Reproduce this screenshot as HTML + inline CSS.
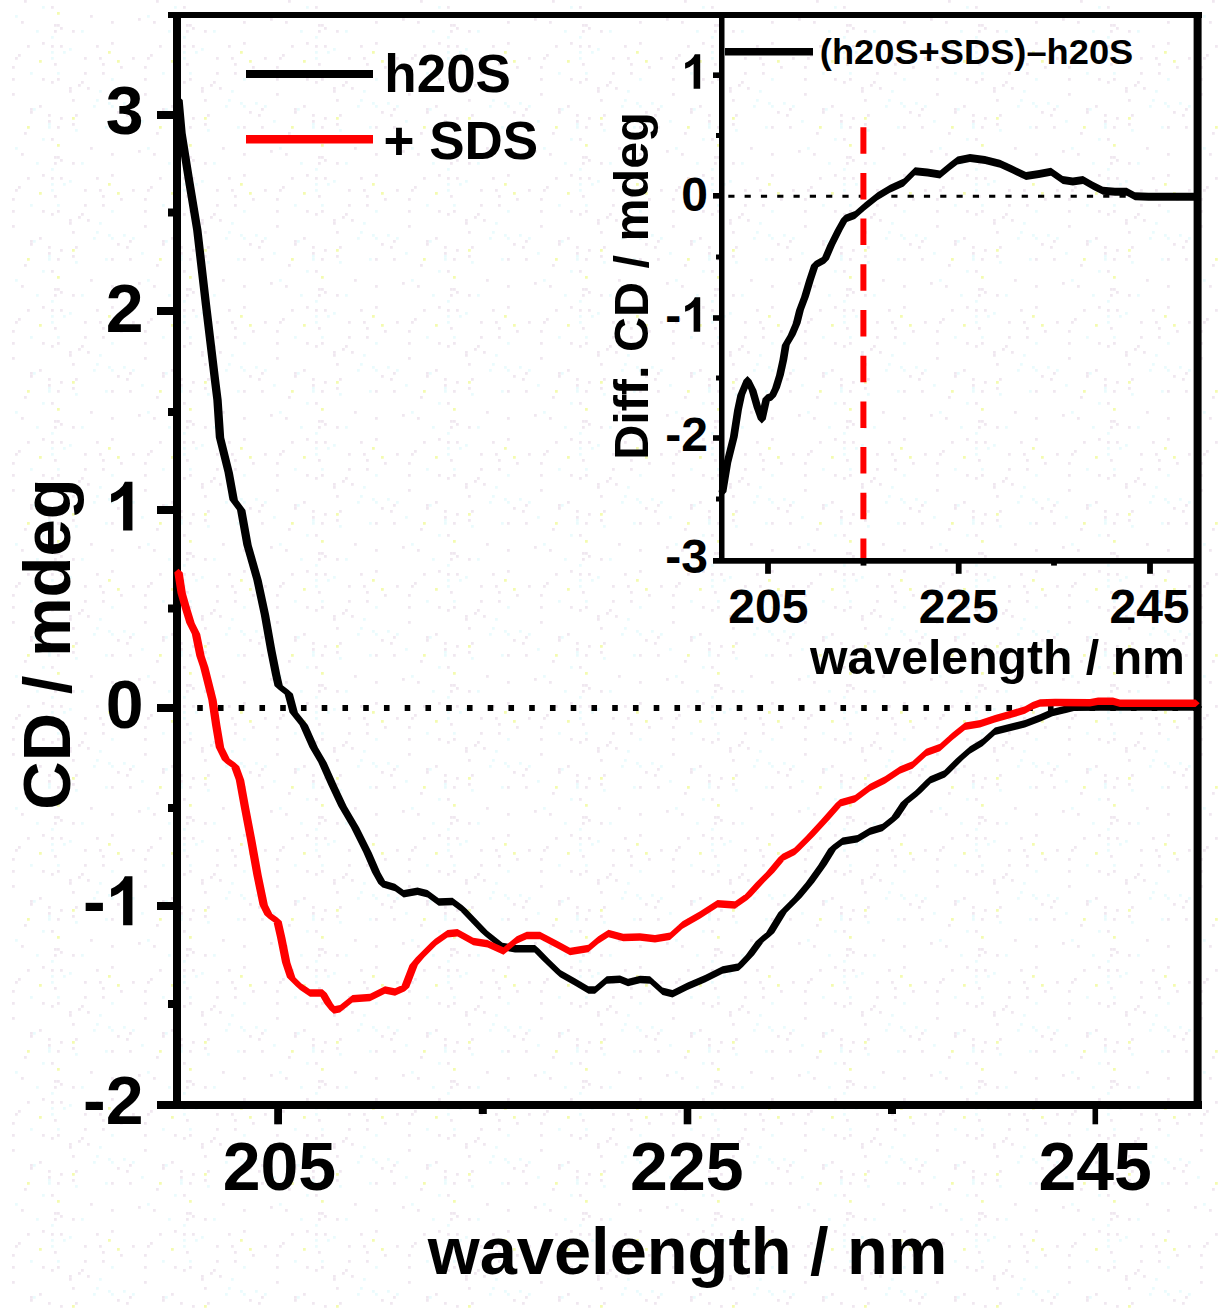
<!DOCTYPE html>
<html><head><meta charset="utf-8"><title>CD spectra</title>
<style>
html,body{margin:0;padding:0;background:#fff;}
body{width:1218px;height:1308px;overflow:hidden;}
svg{display:block;}
text{font-family:"Liberation Sans",sans-serif;font-weight:bold;fill:#000;}
</style></head><body>
<svg width="1218" height="1308" viewBox="0 0 1218 1308">
<defs><pattern id="noise" width="132" height="132" patternUnits="userSpaceOnUse"><rect x="24" y="0" width="2.75" height="2.75" fill="#f0e7f0"/><rect x="42" y="6" width="2.75" height="2.75" fill="#eafbfd"/><rect x="51" y="6" width="2.75" height="2.75" fill="#f0e7f0"/><rect x="57" y="12" width="2.75" height="2.75" fill="#f4fbb0"/><rect x="15" y="15" width="2.75" height="2.75" fill="#eafbfd"/><rect x="90" y="15" width="2.75" height="2.75" fill="#f0e7f0"/><rect x="6" y="18" width="2.75" height="2.75" fill="#f0e7f0"/><rect x="21" y="21" width="2.75" height="2.75" fill="#f0e7f0"/><rect x="111" y="21" width="2.75" height="2.75" fill="#f0e7f0"/><rect x="54" y="24" width="2.75" height="2.75" fill="#f0e7f0"/><rect x="57" y="24" width="2.75" height="2.75" fill="#f0e7f0"/><rect x="60" y="27" width="2.75" height="2.75" fill="#f0e7f0"/><rect x="36" y="30" width="2.75" height="2.75" fill="#eafbfd"/><rect x="54" y="30" width="2.75" height="2.75" fill="#f0e7f0"/><rect x="72" y="30" width="2.75" height="2.75" fill="#f0e7f0"/><rect x="81" y="30" width="2.75" height="2.75" fill="#eafbfd"/><rect x="51" y="36" width="2.75" height="2.75" fill="#eafbfd"/><rect x="42" y="42" width="2.75" height="2.75" fill="#f0e7f0"/><rect x="111" y="42" width="2.75" height="2.75" fill="#f0e7f0"/><rect x="27" y="45" width="2.75" height="2.75" fill="#f0e7f0"/><rect x="51" y="45" width="2.75" height="2.75" fill="#f0e7f0"/><rect x="60" y="45" width="2.75" height="2.75" fill="#f0e7f0"/><rect x="96" y="45" width="2.75" height="2.75" fill="#f0e7f0"/><rect x="69" y="48" width="2.75" height="2.75" fill="#eafbfd"/><rect x="51" y="51" width="2.75" height="2.75" fill="#eafbfd"/><rect x="63" y="51" width="2.75" height="2.75" fill="#eafbfd"/><rect x="108" y="51" width="2.75" height="2.75" fill="#f4fbb0"/><rect x="18" y="54" width="2.75" height="2.75" fill="#f0e7f0"/><rect x="0" y="57" width="2.75" height="2.75" fill="#f0e7f0"/><rect x="15" y="57" width="2.75" height="2.75" fill="#f0e7f0"/><rect x="51" y="57" width="2.75" height="2.75" fill="#eafbfd"/><rect x="84" y="57" width="2.75" height="2.75" fill="#f0e7f0"/><rect x="99" y="57" width="2.75" height="2.75" fill="#f0e7f0"/><rect x="39" y="60" width="2.75" height="2.75" fill="#f4fbb0"/><rect x="117" y="60" width="2.75" height="2.75" fill="#f4fbb0"/><rect x="54" y="63" width="2.75" height="2.75" fill="#f0e7f0"/><rect x="102" y="63" width="2.75" height="2.75" fill="#f0e7f0"/><rect x="12" y="66" width="2.75" height="2.75" fill="#f0e7f0"/><rect x="120" y="66" width="2.75" height="2.75" fill="#f0e7f0"/><rect x="30" y="72" width="2.75" height="2.75" fill="#eafbfd"/><rect x="57" y="72" width="2.75" height="2.75" fill="#eafbfd"/><rect x="84" y="72" width="2.75" height="2.75" fill="#f0e7f0"/><rect x="102" y="72" width="2.75" height="2.75" fill="#f0e7f0"/><rect x="12" y="78" width="2.75" height="2.75" fill="#f0e7f0"/><rect x="42" y="78" width="2.75" height="2.75" fill="#f0e7f0"/><rect x="57" y="78" width="2.75" height="2.75" fill="#f0e7f0"/><rect x="111" y="78" width="2.75" height="2.75" fill="#eafbfd"/><rect x="51" y="81" width="2.75" height="2.75" fill="#f0e7f0"/><rect x="81" y="81" width="2.75" height="2.75" fill="#f0e7f0"/><rect x="78" y="84" width="2.75" height="2.75" fill="#f0e7f0"/><rect x="69" y="87" width="2.75" height="2.75" fill="#f0e7f0"/><rect x="87" y="87" width="2.75" height="2.75" fill="#f0e7f0"/><rect x="69" y="90" width="2.75" height="2.75" fill="#f0e7f0"/><rect x="99" y="90" width="2.75" height="2.75" fill="#eafbfd"/><rect x="12" y="93" width="2.75" height="2.75" fill="#f0e7f0"/><rect x="72" y="99" width="2.75" height="2.75" fill="#f0e7f0"/><rect x="96" y="99" width="2.75" height="2.75" fill="#eafbfd"/><rect x="108" y="102" width="2.75" height="2.75" fill="#eafbfd"/><rect x="123" y="102" width="2.75" height="2.75" fill="#eafbfd"/><rect x="0" y="105" width="2.75" height="2.75" fill="#eafbfd"/><rect x="39" y="105" width="2.75" height="2.75" fill="#f0e7f0"/><rect x="93" y="105" width="2.75" height="2.75" fill="#eafbfd"/><rect x="111" y="105" width="2.75" height="2.75" fill="#eafbfd"/><rect x="30" y="108" width="2.75" height="2.75" fill="#f0e7f0"/><rect x="33" y="108" width="2.75" height="2.75" fill="#eafbfd"/><rect x="129" y="108" width="2.75" height="2.75" fill="#f0e7f0"/><rect x="30" y="111" width="2.75" height="2.75" fill="#f0e7f0"/><rect x="117" y="111" width="2.75" height="2.75" fill="#f0e7f0"/><rect x="48" y="114" width="2.75" height="2.75" fill="#f0e7f0"/><rect x="75" y="114" width="2.75" height="2.75" fill="#f0e7f0"/><rect x="126" y="114" width="2.75" height="2.75" fill="#f0e7f0"/><rect x="60" y="117" width="2.75" height="2.75" fill="#f0e7f0"/><rect x="72" y="117" width="2.75" height="2.75" fill="#f4fbb0"/><rect x="9" y="120" width="2.75" height="2.75" fill="#eafbfd"/><rect x="48" y="120" width="2.75" height="2.75" fill="#f0e7f0"/><rect x="48" y="123" width="2.75" height="2.75" fill="#eafbfd"/><rect x="72" y="123" width="2.75" height="2.75" fill="#f0e7f0"/><rect x="27" y="126" width="2.75" height="2.75" fill="#f4fbb0"/><rect x="48" y="126" width="2.75" height="2.75" fill="#eafbfd"/><rect x="57" y="126" width="2.75" height="2.75" fill="#f0e7f0"/><rect x="105" y="126" width="2.75" height="2.75" fill="#eafbfd"/><rect x="111" y="126" width="2.75" height="2.75" fill="#f0e7f0"/><rect x="129" y="126" width="2.75" height="2.75" fill="#f0e7f0"/><rect x="75" y="129" width="2.75" height="2.75" fill="#eafbfd"/></pattern></defs>
<rect x="0" y="0" width="1218" height="1308" fill="#ffffff"/>
<rect x="12" y="0" width="1206" height="1308" fill="url(#noise)"/>
<line x1="197.2" y1="708" x2="1194" y2="708" stroke="#000" stroke-width="6" stroke-dasharray="5.6 15.15" /><rect x="173" y="12" width="8" height="1097" fill="#000"/><rect x="168" y="12" width="1034" height="6" fill="#000"/><rect x="1193.6" y="12" width="8" height="1097" fill="#000"/><rect x="157" y="1101" width="1045" height="8" fill="#000"/><rect x="157" y="111" width="18" height="8" fill="#000"/><rect x="157" y="307" width="18" height="8" fill="#000"/><rect x="157" y="506" width="18" height="8" fill="#000"/><rect x="157" y="704" width="18" height="8" fill="#000"/><rect x="157" y="902" width="18" height="8" fill="#000"/><rect x="168" y="208.5" width="8" height="8" fill="#000"/><rect x="168" y="408" width="8" height="8" fill="#000"/><rect x="168" y="604.5" width="8" height="8" fill="#000"/><rect x="168" y="804" width="8" height="8" fill="#000"/><rect x="168" y="1000" width="8" height="8" fill="#000"/><rect x="274.2" y="1105" width="7.8" height="19.3" fill="#000"/><rect x="683.7" y="1105" width="7.6" height="19.3" fill="#000"/><rect x="1092.5" y="1105" width="5.6" height="19.3" fill="#000"/><rect x="478.8" y="1105" width="8" height="9" fill="#000"/><rect x="888.0" y="1105" width="8" height="9" fill="#000"/><path d="M174.3,100.0 L178.5,96.2 L182.7,100.0 L185.7,133.0 L181.5,136.8 L177.3,133.0ZM177.3,133.0 L181.5,129.2 L185.7,133.0 L193.2,180.0 L189.0,183.8 L184.8,180.0ZM184.8,180.0 L189.0,176.2 L193.2,180.0 L201.5,230.0 L197.3,233.8 L193.1,230.0ZM193.1,230.0 L197.3,226.2 L201.5,230.0 L210.2,305.0 L206.0,308.8 L201.8,305.0ZM201.8,305.0 L206.0,301.2 L210.2,305.0 L219.2,380.0 L215.0,383.8 L210.8,380.0ZM210.8,380.0 L215.0,376.2 L219.2,380.0 L221.7,400.0 L217.5,403.8 L213.3,400.0ZM213.3,400.0 L217.5,396.2 L221.7,400.0 L224.2,437.5 L220.0,441.3 L215.8,437.5ZM215.8,437.5 L220.0,433.7 L224.2,437.5 L232.9,472.5 L228.7,476.3 L224.5,472.5ZM224.5,472.5 L228.7,468.7 L232.9,472.5 L237.9,500.0 L233.7,503.8 L229.5,500.0ZM229.5,500.0 L233.7,496.2 L237.9,500.0 L245.4,510.0 L241.2,513.8 L237.0,510.0ZM237.0,510.0 L241.2,506.2 L245.4,510.0 L251.7,545.0 L247.5,548.8 L243.3,545.0ZM243.3,545.0 L247.5,541.2 L251.7,545.0 L261.7,580.0 L257.5,583.8 L253.3,580.0ZM253.3,580.0 L257.5,576.2 L261.7,580.0 L269.2,615.0 L265.0,618.8 L260.8,615.0ZM260.8,615.0 L265.0,611.2 L269.2,615.0 L275.4,650.0 L271.2,653.8 L267.0,650.0ZM267.0,650.0 L271.2,646.2 L275.4,650.0 L280.4,675.0 L276.2,678.8 L272.0,675.0ZM272.0,675.0 L276.2,671.2 L280.4,675.0 L282.9,686.0 L278.7,689.8 L274.5,686.0ZM274.5,686.0 L278.7,682.2 L288.7,689.9 L292.9,693.7 L288.7,697.5 L278.7,689.8ZM284.5,693.7 L288.7,689.9 L292.9,693.7 L297.9,712.5 L293.7,716.3 L289.5,712.5ZM289.5,712.5 L293.7,708.7 L297.9,712.5 L307.9,725.0 L303.7,728.8 L299.5,725.0ZM299.5,725.0 L303.7,721.2 L307.9,725.0 L317.9,747.5 L313.7,751.3 L309.5,747.5ZM309.5,747.5 L313.7,743.7 L317.9,747.5 L326.7,762.5 L322.5,766.3 L318.3,762.5ZM318.3,762.5 L322.5,758.7 L326.7,762.5 L336.7,785.0 L332.5,788.8 L328.3,785.0ZM328.3,785.0 L332.5,781.2 L336.7,785.0 L346.7,806.2 L342.5,810.0 L338.3,806.2ZM338.3,806.2 L342.5,802.4 L346.7,806.2 L359.2,827.5 L355.0,831.3 L350.8,827.5ZM350.8,827.5 L355.0,823.7 L359.2,827.5 L371.7,852.5 L367.5,856.3 L363.3,852.5ZM363.3,852.5 L367.5,848.7 L371.7,852.5 L380.4,872.5 L376.2,876.3 L372.0,872.5ZM372.0,872.5 L376.2,868.7 L380.4,872.5 L386.7,883.7 L382.5,887.5 L378.3,883.7ZM378.3,883.7 L382.5,879.9 L395.0,883.7 L399.2,887.5 L395.0,891.3 L382.5,887.5ZM390.8,887.5 L395.0,883.7 L403.7,889.9 L407.9,893.7 L403.7,897.5 L395.0,891.3ZM399.5,893.7 L403.7,889.9 L417.5,887.4 L421.7,891.2 L417.5,895.0 L403.7,897.5ZM413.3,891.2 L417.5,887.4 L427.5,889.9 L431.7,893.7 L427.5,897.5 L417.5,895.0ZM423.3,893.7 L427.5,889.9 L438.7,898.2 L442.9,902.0 L438.7,905.8 L427.5,897.5ZM434.5,902.0 L438.7,898.2 L452.5,897.7 L456.7,901.5 L452.5,905.3 L438.7,905.8ZM448.3,901.5 L452.5,897.7 L462.5,905.2 L466.7,909.0 L462.5,912.8 L452.5,905.3ZM458.3,909.0 L462.5,905.2 L466.7,909.0 L478.2,921.0 L474.0,924.8 L469.8,921.0ZM469.8,921.0 L474.0,917.2 L478.2,921.0 L489.2,932.5 L485.0,936.3 L480.8,932.5ZM480.8,932.5 L485.0,928.7 L502.5,942.7 L506.7,946.5 L502.5,950.3 L485.0,936.3ZM498.3,946.5 L502.5,942.7 L515.0,944.9 L519.2,948.7 L515.0,952.5 L502.5,950.3ZM510.8,948.7 L515.0,944.9 L535.0,944.9 L539.2,948.7 L535.0,952.5 L515.0,952.5ZM530.8,948.7 L535.0,944.9 L539.2,948.7 L550.2,960.0 L546.0,963.8 L541.8,960.0ZM541.8,960.0 L546.0,956.2 L550.2,960.0 L564.2,973.5 L560.0,977.3 L555.8,973.5ZM555.8,973.5 L560.0,969.7 L575.0,978.2 L579.2,982.0 L575.0,985.8 L560.0,977.3ZM570.8,982.0 L575.0,978.2 L588.5,986.2 L592.7,990.0 L588.5,993.8 L575.0,985.8ZM584.3,990.0 L588.5,986.2 L595.0,986.2 L599.2,990.0 L595.0,993.8 L588.5,993.8ZM590.8,990.0 L595.0,986.2 L606.7,976.2 L610.9,980.0 L606.7,983.8 L595.0,993.8ZM602.5,980.0 L606.7,976.2 L620.0,975.4 L624.2,979.2 L620.0,983.0 L606.7,983.8ZM615.8,979.2 L620.0,975.4 L628.0,978.7 L632.2,982.5 L628.0,986.3 L620.0,983.0ZM623.8,982.5 L628.0,978.7 L640.0,975.7 L644.2,979.5 L640.0,983.3 L628.0,986.3ZM635.8,979.5 L640.0,975.7 L650.0,976.2 L654.2,980.0 L650.0,983.8 L640.0,983.3ZM645.8,980.0 L650.0,976.2 L662.5,987.4 L666.7,991.2 L662.5,995.0 L650.0,983.8ZM658.3,991.2 L662.5,987.4 L672.5,989.9 L676.7,993.7 L672.5,997.5 L662.5,995.0ZM668.3,993.7 L672.5,989.9 L687.5,982.4 L691.7,986.2 L687.5,990.0 L672.5,997.5ZM683.3,986.2 L687.5,982.4 L705.0,974.9 L709.2,978.7 L705.0,982.5 L687.5,990.0ZM700.8,978.7 L705.0,974.9 L722.5,966.2 L726.7,970.0 L722.5,973.8 L705.0,982.5ZM718.3,970.0 L722.5,966.2 L738.7,963.2 L742.9,967.0 L738.7,970.8 L722.5,973.8ZM734.5,967.0 L745.8,955.0 L750.0,951.2 L754.2,955.0 L742.9,967.0 L738.7,970.8ZM745.8,955.0 L755.8,941.2 L760.0,937.4 L764.2,941.2 L754.2,955.0 L750.0,958.8ZM755.8,941.2 L760.0,937.4 L770.0,929.2 L774.2,933.0 L770.0,936.8 L760.0,945.0ZM765.8,933.0 L778.3,912.5 L782.5,908.7 L786.7,912.5 L774.2,933.0 L770.0,936.8ZM778.3,912.5 L793.3,897.5 L797.5,893.7 L801.7,897.5 L786.7,912.5 L782.5,916.3ZM793.3,897.5 L805.8,882.5 L810.0,878.7 L814.2,882.5 L801.7,897.5 L797.5,901.3ZM805.8,882.5 L818.3,865.0 L822.5,861.2 L826.7,865.0 L814.2,882.5 L810.0,886.3ZM818.3,865.0 L828.3,848.7 L832.5,844.9 L836.7,848.7 L826.7,865.0 L822.5,868.8ZM828.3,848.7 L832.5,844.9 L842.5,837.4 L846.7,841.2 L842.5,845.0 L832.5,852.5ZM838.3,841.2 L842.5,837.4 L857.5,834.9 L861.7,838.7 L857.5,842.5 L842.5,845.0ZM853.3,838.7 L857.5,834.9 L870.0,827.4 L874.2,831.2 L870.0,835.0 L857.5,842.5ZM865.8,831.2 L870.0,827.4 L882.5,823.7 L886.7,827.5 L882.5,831.3 L870.0,835.0ZM878.3,827.5 L882.5,823.7 L895.0,813.7 L899.2,817.5 L895.0,821.3 L882.5,831.3ZM890.8,817.5 L900.8,802.5 L905.0,798.7 L909.2,802.5 L899.2,817.5 L895.0,821.3ZM900.8,802.5 L905.0,798.7 L917.5,788.7 L921.7,792.5 L917.5,796.3 L905.0,806.3ZM913.3,792.5 L925.8,780.0 L930.0,776.2 L934.2,780.0 L921.7,792.5 L917.5,796.3ZM925.8,780.0 L930.0,776.2 L945.0,769.9 L949.2,773.7 L945.0,777.5 L930.0,783.8ZM940.8,773.7 L955.8,758.7 L960.0,754.9 L964.2,758.7 L949.2,773.7 L945.0,777.5ZM955.8,758.7 L960.0,754.9 L970.0,746.2 L974.2,750.0 L970.0,753.8 L960.0,762.5ZM965.8,750.0 L970.0,746.2 L982.5,738.7 L986.7,742.5 L982.5,746.3 L970.0,753.8ZM978.3,742.5 L982.5,738.7 L995.0,727.4 L999.2,731.2 L995.0,735.0 L982.5,746.3ZM990.8,731.2 L995.0,727.4 L1010.0,723.7 L1014.2,727.5 L1010.0,731.3 L995.0,735.0ZM1005.8,727.5 L1010.0,723.7 L1025.0,719.9 L1029.2,723.7 L1025.0,727.5 L1010.0,731.3ZM1020.8,723.7 L1025.0,719.9 L1040.0,714.2 L1044.2,718.0 L1040.0,721.8 L1025.0,727.5ZM1035.8,718.0 L1040.0,714.2 L1052.5,708.7 L1056.7,712.5 L1052.5,716.3 L1040.0,721.8ZM1048.3,712.5 L1052.5,708.7 L1065.0,705.7 L1069.2,709.5 L1065.0,713.3 L1052.5,716.3ZM1060.8,709.5 L1065.0,705.7 L1074.0,703.4 L1078.2,707.2 L1074.0,711.0 L1065.0,713.3ZM1069.8,707.2 L1074.0,703.4 L1100.0,703.2 L1104.2,707.0 L1100.0,710.8 L1074.0,711.0ZM1095.8,707.0 L1100.0,703.2 L1198.0,703.2 L1202.2,707.0 L1198.0,710.8 L1100.0,710.8Z" fill="#000" fill-rule="nonzero"/><path d="M174.3,572.5 L178.5,568.7 L182.7,572.5 L185.9,593.3 L181.7,597.1 L177.5,593.3ZM177.5,593.3 L181.7,589.5 L185.9,593.3 L190.2,608.3 L186.0,612.1 L181.8,608.3ZM181.8,608.3 L186.0,604.5 L190.2,608.3 L194.7,623.0 L190.5,626.8 L186.3,623.0ZM186.3,623.0 L190.5,619.2 L194.7,623.0 L200.2,634.0 L196.0,637.8 L191.8,634.0ZM191.8,634.0 L196.0,630.2 L200.2,634.0 L204.7,656.0 L200.5,659.8 L196.3,656.0ZM196.3,656.0 L200.5,652.2 L204.7,656.0 L208.4,667.0 L204.2,670.8 L200.0,667.0ZM200.0,667.0 L204.2,663.2 L208.4,667.0 L211.7,680.0 L207.5,683.8 L203.3,680.0ZM203.3,680.0 L207.5,676.2 L211.7,680.0 L216.7,700.0 L212.5,703.8 L208.3,700.0ZM208.3,700.0 L212.5,696.2 L216.7,700.0 L220.4,725.0 L216.2,728.8 L212.0,725.0ZM212.0,725.0 L216.2,721.2 L220.4,725.0 L224.2,747.5 L220.0,751.3 L215.8,747.5ZM215.8,747.5 L220.0,743.7 L224.2,747.5 L230.4,760.0 L226.2,763.8 L222.0,760.0ZM222.0,760.0 L226.2,756.2 L235.0,762.4 L239.2,766.2 L235.0,770.0 L226.2,763.8ZM230.8,766.2 L235.0,762.4 L239.2,766.2 L244.2,780.0 L240.0,783.8 L235.8,780.0ZM235.8,780.0 L240.0,776.2 L244.2,780.0 L249.2,807.5 L245.0,811.3 L240.8,807.5ZM240.8,807.5 L245.0,803.7 L249.2,807.5 L255.4,840.0 L251.2,843.8 L247.0,840.0ZM247.0,840.0 L251.2,836.2 L255.4,840.0 L261.7,875.0 L257.5,878.8 L253.3,875.0ZM253.3,875.0 L257.5,871.2 L261.7,875.0 L267.9,905.0 L263.7,908.8 L259.5,905.0ZM259.5,905.0 L263.7,901.2 L267.9,905.0 L272.9,915.0 L268.7,918.8 L264.5,915.0ZM264.5,915.0 L268.7,911.2 L277.5,917.4 L281.7,921.2 L277.5,925.0 L268.7,918.8ZM273.3,921.2 L277.5,917.4 L281.7,921.2 L285.4,937.5 L281.2,941.3 L277.0,937.5ZM277.0,937.5 L281.2,933.7 L285.4,937.5 L290.4,962.5 L286.2,966.3 L282.0,962.5ZM282.0,962.5 L286.2,958.7 L290.4,962.5 L295.4,977.5 L291.2,981.3 L287.0,977.5ZM287.0,977.5 L291.2,973.7 L295.4,977.5 L304.2,986.2 L300.0,990.0 L295.8,986.2ZM295.8,986.2 L300.0,982.4 L310.0,989.2 L314.2,993.0 L310.0,996.8 L300.0,990.0ZM305.8,993.0 L310.0,989.2 L322.5,989.2 L326.7,993.0 L322.5,996.8 L310.0,996.8ZM318.3,993.0 L322.5,989.2 L326.7,993.0 L332.9,1003.7 L328.7,1007.5 L324.5,1003.7ZM324.5,1003.7 L328.7,999.9 L332.9,1003.7 L337.9,1010.0 L333.7,1013.8 L329.5,1010.0ZM329.5,1010.0 L333.7,1006.2 L340.0,1004.9 L344.2,1008.7 L340.0,1012.5 L333.7,1013.8ZM335.8,1008.7 L340.0,1004.9 L352.5,994.9 L356.7,998.7 L352.5,1002.5 L340.0,1012.5ZM348.3,998.7 L352.5,994.9 L370.0,993.7 L374.2,997.5 L370.0,1001.3 L352.5,1002.5ZM365.8,997.5 L370.0,993.7 L385.0,986.2 L389.2,990.0 L385.0,993.8 L370.0,1001.3ZM380.8,990.0 L385.0,986.2 L395.0,988.2 L399.2,992.0 L395.0,995.8 L385.0,993.8ZM390.8,992.0 L395.0,988.2 L405.0,983.7 L409.2,987.5 L405.0,991.3 L395.0,995.8ZM400.8,987.5 L409.5,965.0 L413.7,961.2 L417.9,965.0 L409.2,987.5 L405.0,991.3ZM409.5,965.0 L415.8,957.5 L420.0,953.7 L424.2,957.5 L417.9,965.0 L413.7,968.8ZM415.8,957.5 L430.8,942.5 L435.0,938.7 L439.2,942.5 L424.2,957.5 L420.0,961.3ZM430.8,942.5 L435.0,938.7 L447.5,929.9 L451.7,933.7 L447.5,937.5 L435.0,946.3ZM443.3,933.7 L447.5,929.9 L457.5,929.0 L461.7,932.8 L457.5,936.6 L447.5,937.5ZM453.3,932.8 L457.5,929.0 L473.3,937.7 L477.5,941.5 L473.3,945.3 L457.5,936.6ZM469.1,941.5 L473.3,937.7 L487.5,939.9 L491.7,943.7 L487.5,947.5 L473.3,945.3ZM483.3,943.7 L487.5,939.9 L503.5,947.2 L507.7,951.0 L503.5,954.8 L487.5,947.5ZM499.3,951.0 L503.5,947.2 L516.7,936.2 L520.9,940.0 L516.7,943.8 L503.5,954.8ZM512.5,940.0 L516.7,936.2 L526.7,931.7 L530.9,935.5 L526.7,939.3 L516.7,943.8ZM522.5,935.5 L526.7,931.7 L540.0,931.7 L544.2,935.5 L540.0,939.3 L526.7,939.3ZM535.8,935.5 L540.0,931.7 L556.7,940.4 L560.9,944.2 L556.7,948.0 L540.0,939.3ZM552.5,944.2 L556.7,940.4 L570.0,947.7 L574.2,951.5 L570.0,955.3 L556.7,948.0ZM565.8,951.5 L570.0,947.7 L588.3,944.7 L592.5,948.5 L588.3,952.3 L570.0,955.3ZM584.1,948.5 L588.3,944.7 L598.3,936.2 L602.5,940.0 L598.3,943.8 L588.3,952.3ZM594.1,940.0 L598.3,936.2 L608.5,929.7 L612.7,933.5 L608.5,937.3 L598.3,943.8ZM604.3,933.5 L608.5,929.7 L623.3,933.7 L627.5,937.5 L623.3,941.3 L608.5,937.3ZM619.1,937.5 L623.3,933.7 L640.0,933.2 L644.2,937.0 L640.0,940.8 L623.3,941.3ZM635.8,937.0 L640.0,933.2 L655.0,934.9 L659.2,938.7 L655.0,942.5 L640.0,940.8ZM650.8,938.7 L655.0,934.9 L670.0,932.4 L674.2,936.2 L670.0,940.0 L655.0,942.5ZM665.8,936.2 L670.0,932.4 L682.5,921.2 L686.7,925.0 L682.5,928.8 L670.0,940.0ZM678.3,925.0 L682.5,921.2 L700.0,911.2 L704.2,915.0 L700.0,918.8 L682.5,928.8ZM695.8,915.0 L700.0,911.2 L717.5,899.9 L721.7,903.7 L717.5,907.5 L700.0,918.8ZM713.3,903.7 L717.5,899.9 L735.0,901.2 L739.2,905.0 L735.0,908.8 L717.5,907.5ZM730.8,905.0 L735.0,901.2 L747.5,892.4 L751.7,896.2 L747.5,900.0 L735.0,908.8ZM743.3,896.2 L755.8,882.5 L760.0,878.7 L764.2,882.5 L751.7,896.2 L747.5,900.0ZM755.8,882.5 L765.8,872.5 L770.0,868.7 L774.2,872.5 L764.2,882.5 L760.0,886.3ZM765.8,872.5 L778.3,857.5 L782.5,853.7 L786.7,857.5 L774.2,872.5 L770.0,876.3ZM778.3,857.5 L782.5,853.7 L795.0,847.4 L799.2,851.2 L795.0,855.0 L782.5,861.3ZM790.8,851.2 L805.8,836.2 L810.0,832.4 L814.2,836.2 L799.2,851.2 L795.0,855.0ZM805.8,836.2 L820.8,820.0 L825.0,816.2 L829.2,820.0 L814.2,836.2 L810.0,840.0ZM820.8,820.0 L835.8,803.0 L840.0,799.2 L844.2,803.0 L829.2,820.0 L825.0,823.8ZM835.8,803.0 L840.0,799.2 L855.0,794.9 L859.2,798.7 L855.0,802.5 L840.0,806.8ZM850.8,798.7 L855.0,794.9 L870.0,783.7 L874.2,787.5 L870.0,791.3 L855.0,802.5ZM865.8,787.5 L870.0,783.7 L885.0,776.2 L889.2,780.0 L885.0,783.8 L870.0,791.3ZM880.8,780.0 L885.0,776.2 L900.0,766.2 L904.2,770.0 L900.0,773.8 L885.0,783.8ZM895.8,770.0 L900.0,766.2 L912.5,761.2 L916.7,765.0 L912.5,768.8 L900.0,773.8ZM908.3,765.0 L922.0,752.5 L926.2,748.7 L930.4,752.5 L916.7,765.0 L912.5,768.8ZM922.0,752.5 L926.2,748.7 L940.0,743.7 L944.2,747.5 L940.0,751.3 L926.2,756.3ZM935.8,747.5 L940.0,743.7 L952.5,732.4 L956.7,736.2 L952.5,740.0 L940.0,751.3ZM948.3,736.2 L952.5,732.4 L965.0,722.4 L969.2,726.2 L965.0,730.0 L952.5,740.0ZM960.8,726.2 L965.0,722.4 L980.0,719.9 L984.2,723.7 L980.0,727.5 L965.0,730.0ZM975.8,723.7 L980.0,719.9 L995.0,714.9 L999.2,718.7 L995.0,722.5 L980.0,727.5ZM990.8,718.7 L995.0,714.9 L1010.0,710.7 L1014.2,714.5 L1010.0,718.3 L995.0,722.5ZM1005.8,714.5 L1010.0,710.7 L1025.0,706.2 L1029.2,710.0 L1025.0,713.8 L1010.0,718.3ZM1020.8,710.0 L1025.0,706.2 L1032.5,702.0 L1036.7,705.8 L1032.5,709.6 L1025.0,713.8ZM1028.3,705.8 L1032.5,702.0 L1040.0,699.2 L1044.2,703.0 L1040.0,706.8 L1032.5,709.6ZM1035.8,703.0 L1040.0,699.2 L1055.0,698.7 L1059.2,702.5 L1055.0,706.3 L1040.0,706.8ZM1050.8,702.5 L1055.0,698.7 L1090.0,699.0 L1094.2,702.8 L1090.0,706.6 L1055.0,706.3ZM1085.8,702.8 L1090.0,699.0 L1098.0,697.5 L1102.2,701.3 L1098.0,705.1 L1090.0,706.6ZM1093.8,701.3 L1098.0,697.5 L1113.0,697.5 L1117.2,701.3 L1113.0,705.1 L1098.0,705.1ZM1108.8,701.3 L1113.0,697.5 L1120.0,699.4 L1124.2,703.2 L1120.0,707.0 L1113.0,705.1ZM1115.8,703.2 L1120.0,699.4 L1195.5,699.4 L1199.7,703.2 L1195.5,707.0 L1120.0,707.0Z" fill="#ff0000" fill-rule="nonzero"/><text x="105.69" y="133.90" font-size="68">3</text><text x="105.69" y="331.50" font-size="68">2</text><path transform="translate(105.69,530.60) scale(0.03320,-0.03320)" d="M806,0 H525 V1059 Q371,915 162,846 V1101 Q272,1137 401,1237.5 Q530,1338 578,1472 H806 Z" fill="#000"/><text x="105.69" y="728.40" font-size="68">0</text><text x="83.05" y="925.20" font-size="68">-</text><path transform="translate(105.69,925.20) scale(0.03320,-0.03320)" d="M806,0 H525 V1059 Q371,915 162,846 V1101 Q272,1137 401,1237.5 Q530,1338 578,1472 H806 Z" fill="#000"/><text x="83.05" y="1123.60" font-size="68">-</text><text x="105.69" y="1123.60" font-size="68">2</text><text x="222.69" y="1190.20" font-size="68">2</text><text x="260.50" y="1190.20" font-size="68">0</text><text x="298.30" y="1190.20" font-size="68">5</text><text x="630.09" y="1190.20" font-size="68">2</text><text x="667.90" y="1190.20" font-size="68">2</text><text x="705.70" y="1190.20" font-size="68">5</text><text x="1038.49" y="1190.20" font-size="68">2</text><text x="1076.30" y="1190.20" font-size="68">4</text><text x="1114.10" y="1190.20" font-size="68">5</text><text x="687.5" y="1274" font-size="66.8" text-anchor="middle">wavelength / nm</text><text transform="translate(70,644) rotate(-90)" font-size="67" text-anchor="middle">CD / mdeg</text><rect x="246" y="70" width="127" height="8" fill="#000"/><rect x="246" y="135" width="127" height="8.5" fill="#ff0000"/><text x="384.3" y="91.7" font-size="53">h20S</text><text x="383.5" y="158.8" font-size="53">+ SDS</text><line x1="728.3" y1="196.3" x2="1194" y2="196.3" stroke="#000" stroke-width="3" stroke-dasharray="6.2 10.1" /><line x1="863.4" y1="127.2" x2="863.4" y2="558" stroke="#ff0000" stroke-width="6" stroke-dasharray="26.5 19.2"/><path d="M718.6,492.0 L723.4,463.0 L727.3,459.0 L731.2,463.0 L726.4,492.0 L722.5,496.0ZM723.4,463.0 L729.9,437.0 L733.8,433.0 L737.7,437.0 L731.2,463.0 L727.3,467.0ZM729.9,437.0 L734.1,410.0 L738.0,406.0 L741.9,410.0 L737.7,437.0 L733.8,441.0ZM734.1,410.0 L737.3,395.0 L741.2,391.0 L745.1,395.0 L741.9,410.0 L738.0,414.0ZM737.3,395.0 L743.6,380.0 L747.5,376.0 L751.4,380.0 L745.1,395.0 L741.2,399.0ZM743.6,380.0 L747.5,376.0 L751.4,380.0 L756.4,390.0 L752.5,394.0 L748.6,390.0ZM748.6,390.0 L752.5,386.0 L756.4,390.0 L761.4,407.5 L757.5,411.5 L753.6,407.5ZM753.6,407.5 L757.5,403.5 L761.4,407.5 L765.7,419.5 L761.8,423.5 L757.9,419.5ZM757.9,419.5 L762.6,398.5 L766.5,394.5 L770.4,398.5 L765.7,419.5 L761.8,423.5ZM762.6,398.5 L766.5,394.5 L772.0,392.5 L775.9,396.5 L772.0,400.5 L766.5,402.5ZM768.1,396.5 L772.1,388.0 L776.0,384.0 L779.9,388.0 L775.9,396.5 L772.0,400.5ZM772.1,388.0 L776.1,375.0 L780.0,371.0 L783.9,375.0 L779.9,388.0 L776.0,392.0ZM776.1,375.0 L779.4,360.0 L783.3,356.0 L787.2,360.0 L783.9,375.0 L780.0,379.0ZM779.4,360.0 L781.9,345.0 L785.8,341.0 L789.7,345.0 L787.2,360.0 L783.3,364.0ZM781.9,345.0 L787.8,335.0 L791.7,331.0 L795.6,335.0 L789.7,345.0 L785.8,349.0ZM787.8,335.0 L792.8,323.3 L796.7,319.3 L800.6,323.3 L795.6,335.0 L791.7,339.0ZM792.8,323.3 L796.1,310.0 L800.0,306.0 L803.9,310.0 L800.6,323.3 L796.7,327.3ZM796.1,310.0 L801.1,296.7 L805.0,292.7 L808.9,296.7 L803.9,310.0 L800.0,314.0ZM801.1,296.7 L806.1,280.0 L810.0,276.0 L813.9,280.0 L808.9,296.7 L805.0,300.7ZM806.1,280.0 L811.1,265.0 L815.0,261.0 L818.9,265.0 L813.9,280.0 L810.0,284.0ZM811.1,265.0 L815.0,261.0 L825.0,255.5 L828.9,259.5 L825.0,263.5 L815.0,269.0ZM821.1,259.5 L827.3,245.0 L831.2,241.0 L835.1,245.0 L828.9,259.5 L825.0,263.5ZM827.3,245.0 L834.8,230.0 L838.7,226.0 L842.6,230.0 L835.1,245.0 L831.2,249.0ZM834.8,230.0 L841.1,218.7 L845.0,214.7 L848.9,218.7 L842.6,230.0 L838.7,234.0ZM841.1,218.7 L845.0,214.7 L855.0,211.0 L858.9,215.0 L855.0,219.0 L845.0,222.7ZM851.1,215.0 L855.0,211.0 L865.0,202.2 L868.9,206.2 L865.0,210.2 L855.0,219.0ZM861.1,206.2 L865.0,202.2 L877.5,192.2 L881.4,196.2 L877.5,200.2 L865.0,210.2ZM873.6,196.2 L877.5,192.2 L890.0,184.7 L893.9,188.7 L890.0,192.7 L877.5,200.2ZM886.1,188.7 L890.0,184.7 L903.7,178.5 L907.6,182.5 L903.7,186.5 L890.0,192.7ZM899.8,182.5 L903.7,178.5 L915.0,167.2 L918.9,171.2 L915.0,175.2 L903.7,186.5ZM911.1,171.2 L915.0,167.2 L927.5,168.5 L931.4,172.5 L927.5,176.5 L915.0,175.2ZM923.6,172.5 L927.5,168.5 L940.0,170.5 L943.9,174.5 L940.0,178.5 L927.5,176.5ZM936.1,174.5 L940.0,170.5 L950.0,162.2 L953.9,166.2 L950.0,170.2 L940.0,178.5ZM946.1,166.2 L950.0,162.2 L957.5,156.5 L961.4,160.5 L957.5,164.5 L950.0,170.2ZM953.6,160.5 L957.5,156.5 L970.0,154.0 L973.9,158.0 L970.0,162.0 L957.5,164.5ZM966.1,158.0 L970.0,154.0 L985.0,156.0 L988.9,160.0 L985.0,164.0 L970.0,162.0ZM981.1,160.0 L985.0,156.0 L1000.0,159.7 L1003.9,163.7 L1000.0,167.7 L985.0,164.0ZM996.1,163.7 L1000.0,159.7 L1012.5,165.5 L1016.4,169.5 L1012.5,173.5 L1000.0,167.7ZM1008.6,169.5 L1012.5,165.5 L1026.0,172.0 L1029.9,176.0 L1026.0,180.0 L1012.5,173.5ZM1022.1,176.0 L1026.0,172.0 L1039.0,170.0 L1042.9,174.0 L1039.0,178.0 L1026.0,180.0ZM1035.1,174.0 L1039.0,170.0 L1051.0,167.7 L1054.9,171.7 L1051.0,175.7 L1039.0,178.0ZM1047.1,171.7 L1051.0,167.7 L1062.8,176.0 L1066.7,180.0 L1062.8,184.0 L1051.0,175.7ZM1058.9,180.0 L1062.8,176.0 L1072.9,177.6 L1076.8,181.6 L1072.9,185.6 L1062.8,184.0ZM1069.0,181.6 L1072.9,177.6 L1083.0,176.0 L1086.9,180.0 L1083.0,184.0 L1072.9,185.6ZM1079.1,180.0 L1083.0,176.0 L1093.0,181.8 L1096.9,185.8 L1093.0,189.8 L1083.0,184.0ZM1089.1,185.8 L1093.0,181.8 L1103.0,186.8 L1106.9,190.8 L1103.0,194.8 L1093.0,189.8ZM1099.1,190.8 L1103.0,186.8 L1115.0,187.7 L1118.9,191.7 L1115.0,195.7 L1103.0,194.8ZM1111.1,191.7 L1115.0,187.7 L1126.7,187.7 L1130.6,191.7 L1126.7,195.7 L1115.0,195.7ZM1122.8,191.7 L1126.7,187.7 L1135.0,192.2 L1138.9,196.2 L1135.0,200.2 L1126.7,195.7ZM1131.1,196.2 L1135.0,192.2 L1148.5,192.7 L1152.4,196.7 L1148.5,200.7 L1135.0,200.2ZM1144.6,196.7 L1148.5,192.7 L1165.0,192.7 L1168.9,196.7 L1165.0,200.7 L1148.5,200.7ZM1161.1,196.7 L1165.0,192.7 L1196.0,192.7 L1199.9,196.7 L1196.0,200.7 L1165.0,200.7Z" fill="#000" fill-rule="nonzero"/><rect x="719" y="15" width="5.5" height="548" fill="#000"/><rect x="713" y="558" width="485" height="5.7" fill="#000"/><rect x="713" y="72.4" width="7" height="5.6" fill="#000"/><rect x="713" y="193.0" width="7" height="5.6" fill="#000"/><rect x="713" y="315.2" width="7" height="5.6" fill="#000"/><rect x="713" y="435.2" width="7" height="5.6" fill="#000"/><rect x="716" y="133.0" width="4" height="5" fill="#000"/><rect x="716" y="254.5" width="4" height="5" fill="#000"/><rect x="716" y="375.5" width="4" height="5" fill="#000"/><rect x="716" y="496.5" width="4" height="5" fill="#000"/><rect x="765.1" y="560" width="5.8" height="13.8" fill="#000"/><rect x="955.8" y="560" width="5.8" height="13.8" fill="#000"/><rect x="1147.1" y="560" width="5.8" height="13.8" fill="#000"/><rect x="860.6" y="560" width="5.8" height="5.6" fill="#000"/><rect x="1051.1" y="560" width="5.8" height="5.6" fill="#000"/><path transform="translate(681.31,88.70) scale(0.02344,-0.02344)" d="M806,0 H525 V1059 Q371,915 162,846 V1101 Q272,1137 401,1237.5 Q530,1338 578,1472 H806 Z" fill="#000"/><text x="681.31" y="210.50" font-size="48">0</text><text x="665.33" y="331.70" font-size="48">-</text><path transform="translate(681.31,331.70) scale(0.02344,-0.02344)" d="M806,0 H525 V1059 Q371,915 162,846 V1101 Q272,1137 401,1237.5 Q530,1338 578,1472 H806 Z" fill="#000"/><text x="665.33" y="451.00" font-size="48">-</text><text x="681.31" y="451.00" font-size="48">2</text><text x="665.33" y="573.30" font-size="48">-</text><text x="681.31" y="573.30" font-size="48">3</text><text x="728.27" y="623.30" font-size="48">2</text><text x="754.96" y="623.30" font-size="48">0</text><text x="781.64" y="623.30" font-size="48">5</text><text x="918.67" y="623.30" font-size="48">2</text><text x="945.36" y="623.30" font-size="48">2</text><text x="972.04" y="623.30" font-size="48">5</text><text x="1109.47" y="623.30" font-size="48">2</text><text x="1136.16" y="623.30" font-size="48">4</text><text x="1162.84" y="623.30" font-size="48">5</text><text x="997.5" y="674.2" font-size="48.2" text-anchor="middle">wavelength / nm</text><text transform="translate(648.3,286) rotate(-90)" font-size="48.5" text-anchor="middle">Diff. CD / mdeg</text><rect x="725" y="48" width="88" height="7.5" fill="#000"/><text x="819.8" y="64.2" font-size="34.2" textLength="313.5" lengthAdjust="spacingAndGlyphs">(h20S+SDS)–h20S</text></svg></body></html>
